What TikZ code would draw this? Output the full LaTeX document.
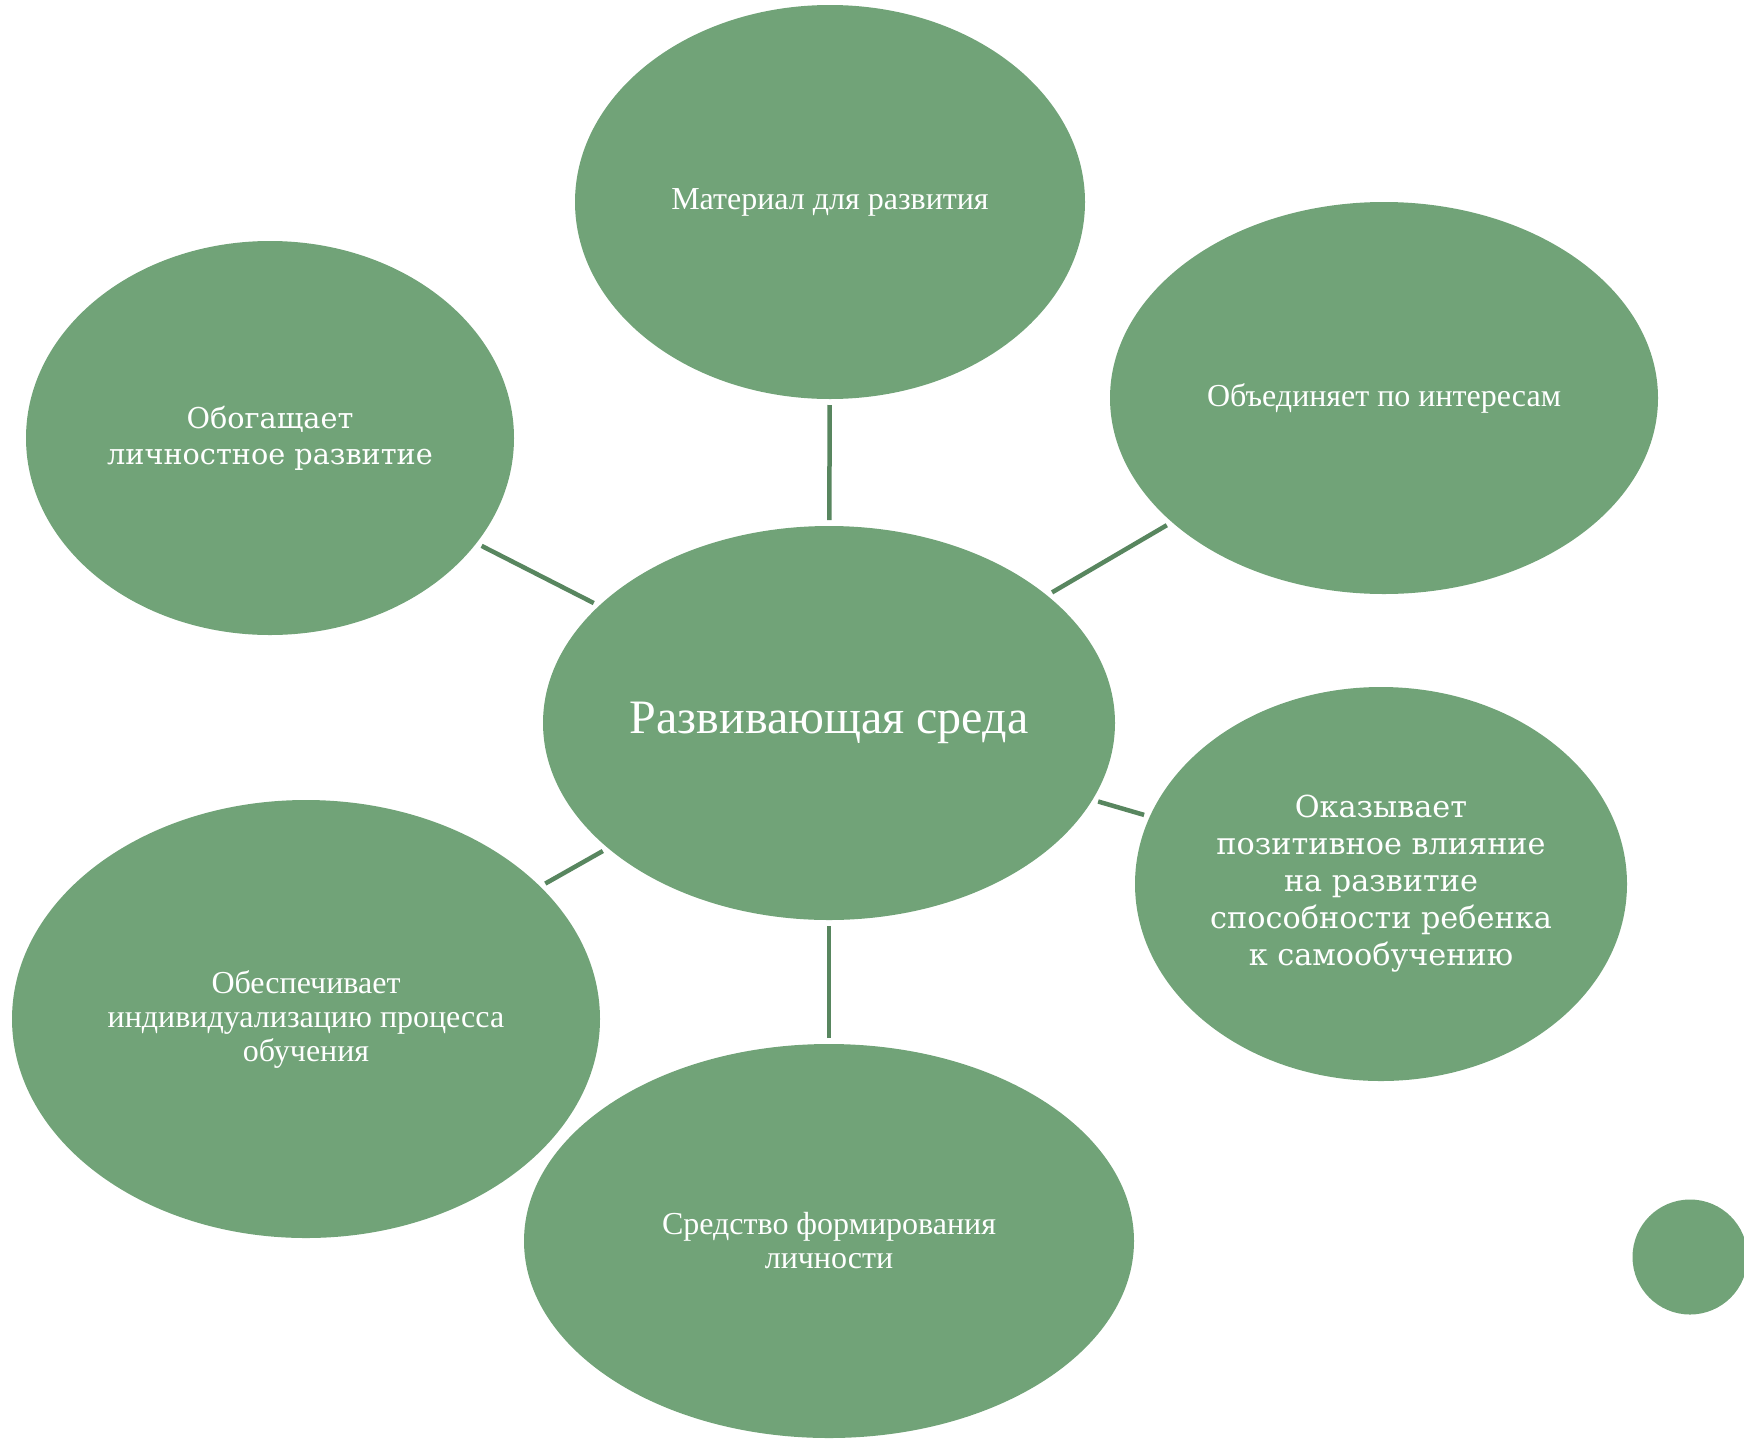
\documentclass[tikz,border=0pt]{standalone}
\usepackage{fontspec}
\usetikzlibrary{shapes.geometric}
\newfontfamily\tmsfont{Liberation Serif}
\newfontfamily\cenfont{DejaVu Serif}
\definecolor{bubblefill}{RGB}{113,163,120}
\definecolor{linkcol}{RGB}{88,134,95}
\tikzset{
  bubble/.style={ellipse, fill=bubblefill, draw=none, inner sep=0pt, outer sep=0pt, text=white, align=center},
  tms/.style={font=\tmsfont\fontsize{32}{34}\selectfont},
  cen/.style={font=\cenfont\fontsize{30.3}{37}\selectfont},
  link/.style={draw=linkcol, line width=4.5pt, shorten <=6pt, shorten >=6pt}
}
\begin{document}
\begin{tikzpicture}[x=1pt,y=-1pt]
\useasboundingbox (0,0) rectangle (1744,1440);
\node[bubble, tms, minimum width=510pt, minimum height=394pt] (top) at (830,202) {Материал для развития};
\node[bubble, tms, minimum width=548pt, minimum height=392pt] (ur) at (1384,398) {Объединяет по интересам};
\node[bubble, font=\cenfont\fontsize{28.7}{36}\selectfont, minimum width=488pt, minimum height=394pt] (ul) at (270,438) {Обогащает\\личностное развитие};
\node[bubble, font=\tmsfont\fontsize{48}{52}\selectfont, minimum width=572pt, minimum height=394pt] (mid) at (829,723) {Развивающая среда};
\node[bubble, cen, minimum width=492pt, minimum height=394pt] (rt) at (1381,884) {Оказывает\\позитивное влияние\\на развитие\\способности ребенка\\к самообучению};
\node[bubble, tms, minimum width=588pt, minimum height=438pt] (ll) at (306,1019) {Обеспечивает\\индивидуализацию процесса\\обучения};
\node[bubble, tms, minimum width=610pt, minimum height=394pt] (bot) at (829,1241) {Средство формирования\\личности};
\node[circle, fill=bubblefill, inner sep=0pt, minimum size=115pt] (dot) at (1690,1257) {};
\draw[link] (top) -- (mid);
\draw[link] (ul) -- (mid);
\draw[link] (ur) -- (mid);
\draw[link] (rt) -- (mid);
\draw[link] (ll) -- (mid);
\draw[link] (bot) -- (mid);
\end{tikzpicture}
\end{document}
